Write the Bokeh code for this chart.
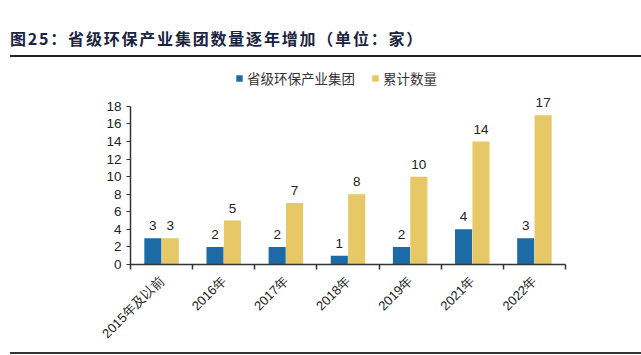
from bokeh.plotting import figure
from bokeh.models import ColumnDataSource, FixedTicker, Legend, LegendItem, Range1d, Div
from bokeh.layouts import column
from bokeh.core.properties import value
from bokeh.embed import file_html
from bokeh.resources import INLINE
import math

categories = ["2015年及以前", "2016年", "2017年", "2018年", "2019年", "2021年", "2022年"]
new_groups = [3, 2, 2, 1, 2, 4, 3]
cumulative = [3, 5, 7, 8, 10, 14, 17]
series_names = ["省级环保产业集团", "累计数量"]
title_text = "图25：省级环保产业集团数量逐年增加（单位：家）"
y_ticks = list(range(0, 19, 2))

BLUE = "#1C6AA6"
YELLOW = "#E6C866"

n = len(categories)
xs = [i + 0.5 for i in range(n)]
src_a = ColumnDataSource(dict(x=[v - 0.14 for v in xs], y=new_groups, t=[str(v) for v in new_groups]))
src_b = ColumnDataSource(dict(x=[v + 0.14 for v in xs], y=cumulative, t=[str(v) for v in cumulative]))

W = 641
p = figure(width=W, height=291, output_backend="svg", toolbar_location=None,
           x_range=Range1d(0, n), y_range=Range1d(0, 23), margin=0)
p.min_border_left = 130
p.min_border_right = 76
p.min_border_top = 4
p.min_border_bottom = 84
p.outline_line_color = None
p.xgrid.grid_line_color = None
p.ygrid.grid_line_color = None
p.background_fill_color = None
p.border_fill_color = None

r1 = p.vbar(x="x", top="y", width=0.275, source=src_a, fill_color=BLUE, line_color=None)
r2 = p.vbar(x="x", top="y", width=0.275, source=src_b, fill_color=YELLOW, line_color=None)

for src in (src_a, src_b):
    p.text(x="x", y="y", text="t", source=src, text_align="center", text_baseline="bottom",
           y_offset=-8, text_font=value("Liberation Sans"), text_font_size="13.5px", text_color="#222222")

# x axis: labels at category centers, ticks at category boundaries (minor ticks)
p.xaxis.ticker = FixedTicker(ticks=xs, minor_ticks=list(range(n + 1)))
p.xaxis.major_label_overrides = {v: c for v, c in zip(xs, categories)}
p.xaxis.major_tick_line_color = None
p.xaxis.minor_tick_out = 5
p.xaxis.minor_tick_in = 0
p.xaxis.minor_tick_line_color = "#333333"
p.xaxis.minor_tick_line_width = 1.5
p.xaxis.axis_line_color = "#333333"
p.xaxis.axis_line_width = 1.5
p.xaxis.major_label_orientation = math.pi / 4
p.xaxis.major_label_standoff = 8
p.xaxis.major_label_text_font = "Liberation Sans"
p.xaxis.major_label_text_font_size = "13px"
p.xaxis.major_label_text_color = "#222222"

p.yaxis.ticker = FixedTicker(ticks=y_ticks)
p.yaxis.bounds = (0, 18)
p.yaxis.minor_tick_line_color = None
p.yaxis.major_tick_out = 4
p.yaxis.major_tick_in = 0
p.yaxis.major_tick_line_color = "#333333"
p.yaxis.axis_line_color = "#333333"
p.yaxis.axis_line_width = 1.5
p.yaxis.major_label_text_font = "Liberation Sans"
p.yaxis.major_label_text_font_size = "13.5px"
p.yaxis.major_label_text_color = "#222222"

legend = Legend(items=[LegendItem(label=series_names[0], renderers=[r1]),
                       LegendItem(label=series_names[1], renderers=[r2])],
                orientation="horizontal", location=(105, 176),
                label_text_font="Noto Sans CJK SC", label_text_font_size="13.5px",
                label_text_color="#333333", glyph_width=8, glyph_height=8,
                label_standoff=4, spacing=16, background_fill_alpha=0,
                border_line_color=None, padding=2, margin=0)
p.add_layout(legend, "center")

title_div = Div(width=W, height=58, margin=0, text=(
    '<div style="display:block; box-sizing:border-box; margin:0 0 0 10px; width:631px; padding-top:28px;'
    ' height:57px; border-bottom:2px solid #222;'
    " font-family:'Noto Sans CJK SC'; font-weight:bold; font-size:16px; letter-spacing:1.8px; color:#1a2340;"
    ' line-height:20px; white-space:nowrap;">' + title_text + '</div>'))
bottom_div = Div(width=631, height=2, margin=(3, 0, 1, 10), text="",
                 styles={"background-color": "#333333"})

layout = column(title_div, p, bottom_div, spacing=0)

out = file_html(layout, INLINE)
open("out.html", "w").write(out)
